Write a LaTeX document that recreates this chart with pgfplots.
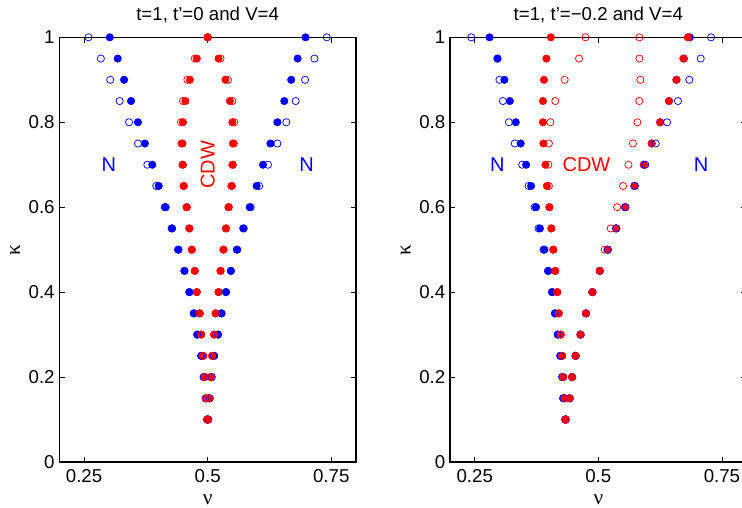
\documentclass[border=0pt]{standalone}
\usepackage{pgfplots}
\pgfplotsset{compat=1.18}
\usepackage{pgfplotstable}
\usepackage{fontspec}
\setmainfont{Liberation Sans}
\newfontfamily\grk{Liberation Serif}

% columns: k, blue open L, blue filled L, red open L, red filled L, red filled R, red open R, blue filled R, blue open R
\pgfplotstableread{
k    boL   bfL   roL   rfL   rfR   roR   bfR   boR
1.00 0.259 0.302 0.500 0.500 0.500 0.500 0.698 0.741
0.95 0.284 0.318 0.474 0.478 0.522 0.526 0.682 0.716
0.90 0.303 0.331 0.459 0.464 0.536 0.541 0.669 0.697
0.85 0.322 0.345 0.450 0.455 0.545 0.550 0.655 0.678
0.80 0.341 0.359 0.446 0.450 0.550 0.554 0.641 0.659
0.75 0.359 0.373 0.447 0.449 0.551 0.553 0.627 0.641
0.70 0.378 0.388 0.449 0.450 0.550 0.551 0.612 0.622
0.65 0.396 0.401 0.451 0.452 0.548 0.549 0.599 0.604
0.60 0.413 0.415 0.457 0.458 0.542 0.543 0.585 0.587
0.55 0.427 0.428 0.463 0.463 0.537 0.537 0.572 0.573
0.50 0.440 0.441 0.468 0.468 0.532 0.532 0.559 0.560
0.45 0.453 0.453 0.474 0.474 0.526 0.526 0.547 0.547
0.40 0.463 0.463 0.478 0.478 0.522 0.522 0.537 0.537
0.35 0.472 0.472 0.484 0.484 0.516 0.516 0.528 0.528
0.30 0.479 0.479 0.487 0.487 0.513 0.513 0.521 0.521
0.25 0.487 0.487 0.491 0.491 0.509 0.509 0.513 0.513
0.20 0.492 0.492 0.494 0.494 0.506 0.506 0.508 0.508
0.15 0.496 0.496 0.497 0.497 0.503 0.503 0.504 0.504
0.10 0.499 0.499 0.499 0.499 0.501 0.501 0.501 0.501
}\leftdata

\pgfplotstableread{
k    boL   bfL   roL   rfL   rfR   roR   bfR   boR
1.00 0.243 0.280 0.474 0.404 0.681 0.583 0.685 0.728
0.95 0.296 0.296 0.461 0.395 0.672 0.583 0.673 0.707
0.90 0.300 0.310 0.432 0.390 0.658 0.585 0.658 0.684
0.85 0.307 0.321 0.413 0.388 0.643 0.583 0.643 0.661
0.80 0.319 0.333 0.403 0.388 0.625 0.579 0.625 0.639
0.75 0.331 0.343 0.400 0.389 0.608 0.570 0.608 0.616
0.70 0.346 0.354 0.399 0.393 0.592 0.561 0.592 0.595
0.65 0.359 0.364 0.400 0.396 0.573 0.550 0.573 0.574
0.60 0.371 0.374 0.401 0.401 0.554 0.538 0.554 0.555
0.55 0.379 0.382 0.405 0.405 0.536 0.525 0.536 0.536
0.50 0.389 0.391 0.409 0.409 0.519 0.513 0.519 0.519
0.45 0.398 0.399 0.413 0.413 0.503 0.503 0.503 0.503
0.40 0.406 0.407 0.417 0.417 0.488 0.488 0.488 0.488
0.35 0.412 0.413 0.420 0.420 0.475 0.475 0.475 0.475
0.30 0.418 0.418 0.424 0.424 0.464 0.464 0.464 0.464
0.25 0.423 0.423 0.427 0.427 0.454 0.454 0.454 0.454
0.20 0.427 0.427 0.429 0.429 0.447 0.447 0.447 0.447
0.15 0.429 0.429 0.432 0.432 0.442 0.442 0.442 0.442
0.10 0.433 0.433 0.434 0.434 0.434 0.434 0.434 0.434
}\rightdata

\pgfplotsset{
  panel/.style={
    width=222.5pt, height=318.5pt, scale only axis,
    anchor=south west,
    xmin=0.2, xmax=0.8, ymin=0, ymax=1,
    xtick={0.25,0.5,0.75}, ytick={0,0.2,0.4,0.6,0.8,1},
    /pgf/number format/assume math mode=true,
    tick label style={font=\fontsize{14}{16}\selectfont},
    tick align=inside, major tick length=4pt,
    axis line style={line width=0.8pt},
    every tick/.style={black, line width=0.6pt},
    xticklabel style={anchor=base, yshift=-15pt},
    title style={at={(0.5,1)}, anchor=base, yshift=6.5pt, font=\fontsize{14}{16}\selectfont},
    xlabel style={at={(axis description cs:0.5,-0.088)}, anchor=center, font=\fontsize{16}{18}\selectfont\grk},
    ylabel style={at={(axis description cs:-0.149,0.5)}, anchor=center, font=\fontsize{16}{18}\selectfont\grk},
    xlabel={ν}, ylabel={κ},
    clip=false,
  },
  bf/.style={only marks, mark=*, mark size=2.8pt, blue, mark options={draw=blue, fill=blue}},
  rf/.style={only marks, mark=*, mark size=2.8pt, red, mark options={draw=red, fill=red}},
  bo/.style={only marks, mark=o, mark size=2.7pt, blue, mark options={line width=0.55pt}},
  ro/.style={only marks, mark=o, mark size=2.7pt, red, mark options={line width=0.55pt}},
}

\begin{document}
\begin{tikzpicture}
\begin{axis}[panel, at={(44.5pt,33.75pt)}, title={t=1, t’=0 and V=4}]
\addplot[bf] table[x=bfL, y=k] {\leftdata};
\addplot[bf] table[x=bfR, y=k] {\leftdata};
\addplot[rf] table[x=rfL, y=k] {\leftdata};
\addplot[rf] table[x=rfR, y=k] {\leftdata};
\addplot[bo] table[x=boL, y=k] {\leftdata};
\addplot[bo] table[x=boR, y=k] {\leftdata};
\addplot[ro] table[x=roL, y=k] {\leftdata};
\addplot[ro] table[x=roR, y=k] {\leftdata};
\node[blue, font=\fontsize{15}{17}\selectfont] at (axis cs:0.30,0.70) {N};
\node[blue, font=\fontsize{15}{17}\selectfont] at (axis cs:0.70,0.70) {N};
\node[red, rotate=90, fill=white, inner sep=1pt, font=\fontsize{15}{17}\selectfont] at (axis cs:0.5,0.70) {CDW};
\end{axis}
\begin{axis}[panel, at={(337.5pt,33.75pt)}, title={t=1, t’=−0.2 and V=4}]
\addplot[bf] table[x=bfL, y=k] {\rightdata};
\addplot[bf] table[x=bfR, y=k] {\rightdata};
\addplot[rf] table[x=rfL, y=k] {\rightdata};
\addplot[rf] table[x=rfR, y=k] {\rightdata};
\addplot[bo] table[x=boL, y=k] {\rightdata};
\addplot[bo] table[x=boR, y=k] {\rightdata};
\addplot[ro] table[x=roL, y=k] {\rightdata};
\addplot[ro] table[x=roR, y=k] {\rightdata};
\node[blue, font=\fontsize{15}{17}\selectfont] at (axis cs:0.296,0.70) {N};
\node[blue, font=\fontsize{15}{17}\selectfont] at (axis cs:0.708,0.70) {N};
\node[red, font=\fontsize{15}{17}\selectfont] at (axis cs:0.476,0.70) {CDW};
\end{axis}
\pgfresetboundingbox
\useasboundingbox (0,0) rectangle (556.5pt,380.25pt);
\end{tikzpicture}
\end{document}
